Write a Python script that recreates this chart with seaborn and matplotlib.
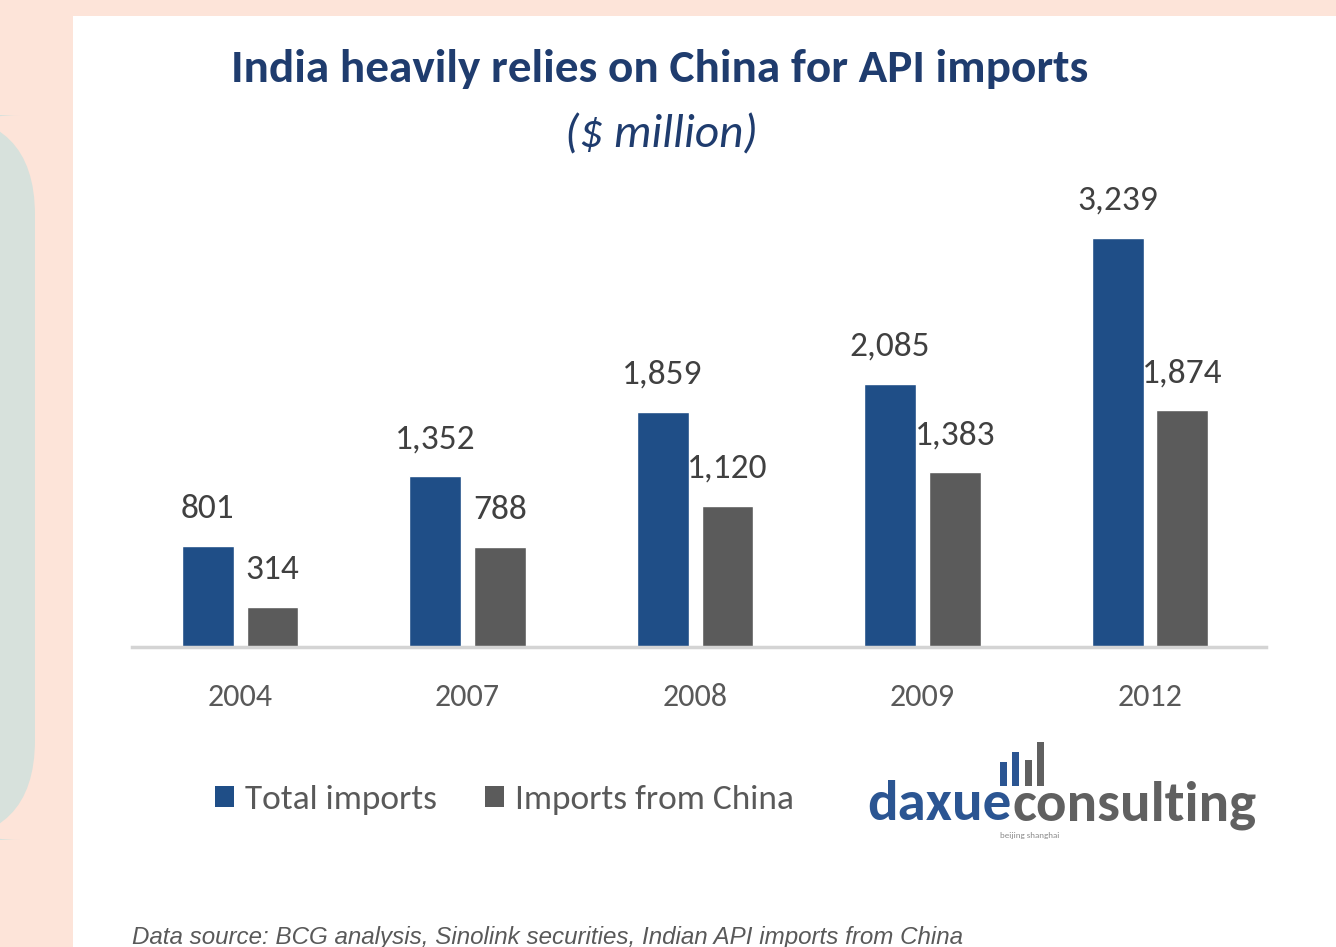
import matplotlib
matplotlib.use("Agg")
import matplotlib.pyplot as plt
from matplotlib import font_manager
from matplotlib.patches import Rectangle, FancyBboxPatch, Patch
import seaborn as sns
import pandas as pd

# ---------------- data ----------------
years = ["2004", "2007", "2008", "2009", "2012"]
total_imports = [801, 1352, 1859, 2085, 3239]
imports_from_china = [314, 788, 1120, 1383, 1874]
series_names = ["Total imports", "Imports from China"]

title = "India heavily relies on China for API imports"
subtitle = "($ million)"
source = "Data source: BCG analysis, Sinolink securities, Indian API imports from China"

# ---------------- style ----------------
BLUE = "#1f4e87"
GREY = "#5b5b5b"
NAVY = "#1f3c6e"
TXT = "#404040"
TICK = "#595959"

sns.set_theme(style="white")
names = {f.name for f in font_manager.fontManager.ttflist}
main_font = next((f for f in ["Carlito", "Calibri", "Lato", "Open Sans"] if f in names), "DejaVu Sans")
src_font = "Liberation Sans" if "Liberation Sans" in names else "DejaVu Sans"
plt.rcParams["font.family"] = [main_font, "DejaVu Sans"]

df = pd.DataFrame({
    "year": years * 2,
    "value": total_imports + imports_from_china,
    "series": [series_names[0]] * len(years) + [series_names[1]] * len(years),
})

W, H = 1336, 947
fig = plt.figure(figsize=(W / 100, H / 100), dpi=100)
fig.patch.set_facecolor("#fde4d9")

# background panels (drawn beneath the axes)
fig.patches.append(FancyBboxPatch((-0.8, (H - 840) / 100), 1.15, (840 - 115) / 100,
                                  boxstyle="round,pad=0,rounding_size=1.0",
                                  transform=fig.dpi_scale_trans, facecolor="#d7e1dc",
                                  edgecolor="none", zorder=-2))
fig.patches.append(Rectangle((73 / W, 0), 1 - 73 / W, 1 - 16 / H, transform=fig.transFigure,
                             facecolor="white", edgecolor="none", zorder=-1))

ax = fig.add_axes([132 / W, 1 - 647 / H, (1266 - 132) / W, (647 - 170) / H])
ax.set_facecolor("none")
sns.barplot(data=df, x="year", y="value", hue="series", palette=[BLUE, GREY],
            width=0.57, gap=0.2, saturation=1, legend=False, ax=ax)

for cont, vals in zip(ax.containers, [total_imports, imports_from_china]):
    ax.bar_label(cont, labels=[f"{v:,}" for v in vals], padding=16,
                 fontsize=25.5, color=TXT)

ax.set_ylim(0, 3777)
ax.set_xlim(-0.475, 4.51)
ax.set_xlabel("")
ax.set_ylabel("")
ax.set_yticks([])
for s in ["top", "left", "right"]:
    ax.spines[s].set_visible(False)
ax.spines["bottom"].set_color("#d4d4d4")
ax.spines["bottom"].set_linewidth(2.5)
ax.tick_params(axis="x", length=0, pad=26, labelsize=23, labelcolor=TICK)

# titles
fig.text(660 / W, 1 - 82 / H, title, ha="center", va="baseline", fontsize=34,
         fontweight="bold", color=NAVY)
fig.text(661 / W, 1 - 147 / H, subtitle, ha="center", va="baseline", fontsize=34,
         fontstyle="italic", color=NAVY)

# legend
handles = [Patch(facecolor=BLUE, edgecolor="none"), Patch(facecolor=GREY, edgecolor="none")]
fig.legend(handles, series_names, loc="center left", bbox_to_anchor=(183 / W, 1 - 800 / H),
           ncol=2, frameon=False, fontsize=25.5, handlelength=0.55, handleheight=0.55,
           handletextpad=0.3, columnspacing=1.35, labelcolor=TICK)

# logo
fig.text(1012 / W, 1 - 820 / H, "daxue", ha="right", va="baseline", fontsize=41,
         fontweight="bold", color="#2b5592")
fig.text(1012 / W, 1 - 820 / H, "consulting", ha="left", va="baseline", fontsize=41,
         fontweight="bold", color="#606060")
for x0, top, col in [(1000, 762, "#2b5592"), (1012, 752, "#2b5592"),
                     (1025, 760, "#606060"), (1037, 742, "#606060")]:
    fig.patches.append(Rectangle((x0 / W, 1 - 786 / H), 7 / W, (786 - top) / H,
                                 transform=fig.transFigure, facecolor=col,
                                 edgecolor="none", zorder=3))
fig.text(1030 / W, 1 - 838 / H, "beijing shanghai", ha="center", va="baseline",
         fontsize=6.5, color="#8a8a8a")

# source
fig.text(132 / W, 1 - 944 / H, source, ha="left", va="baseline", fontsize=17.4,
         fontstyle="italic", color=TICK, family=[src_font, "DejaVu Sans"])

fig.savefig("out.png", dpi=100, facecolor=fig.get_facecolor())
